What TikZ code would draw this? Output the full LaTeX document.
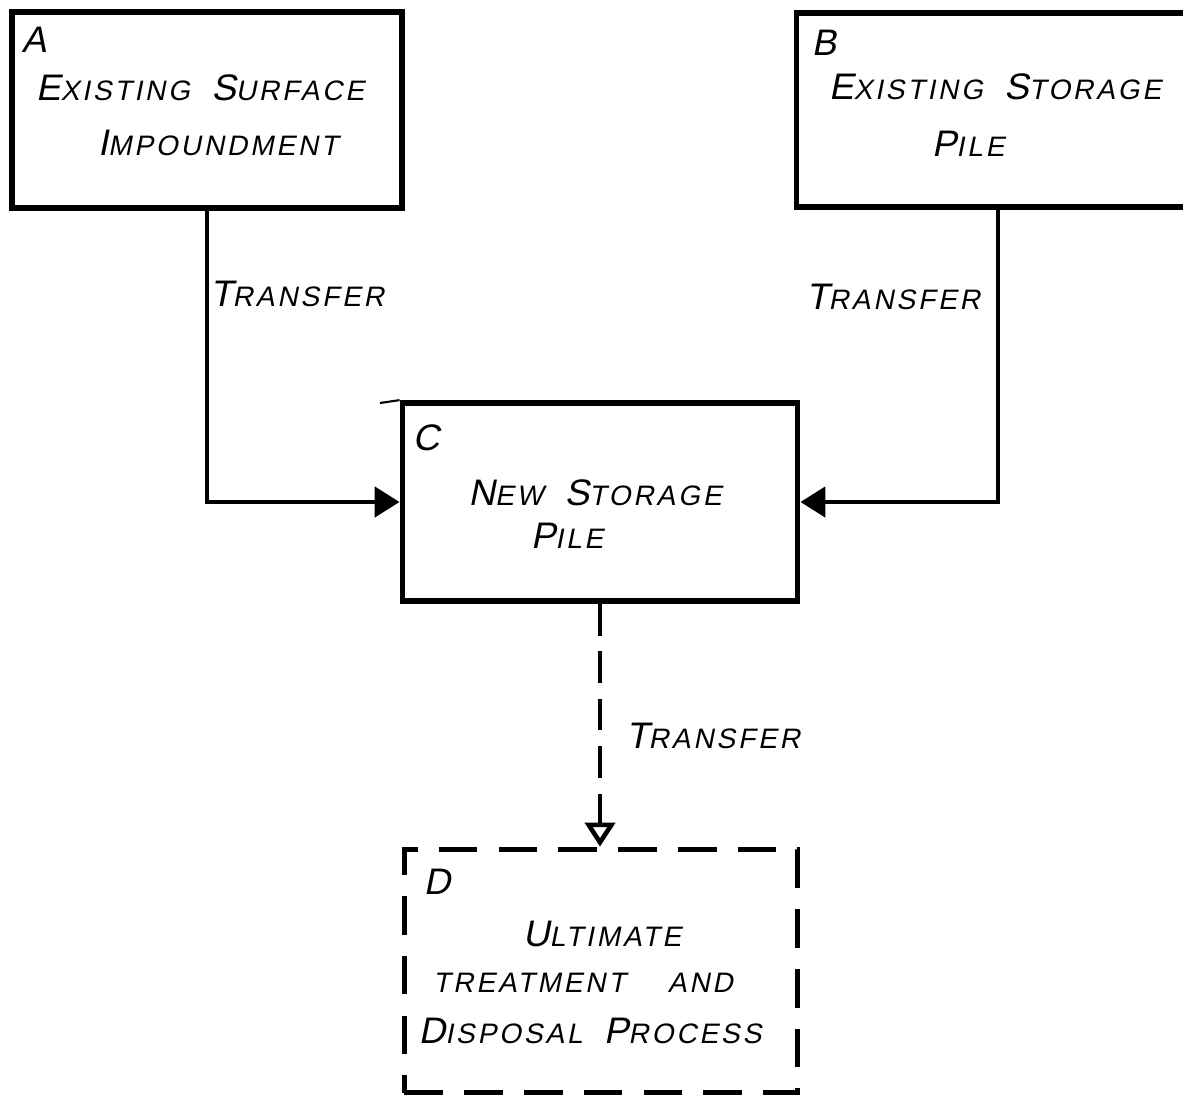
\documentclass[tikz,border=0pt]{standalone}
\usepackage{fontspec}
\newfontfamily\handfont[FakeSlant=0.2,LetterSpace=10]{Liberation Sans}
\usetikzlibrary{arrows.meta}
\newcommand\capfirst[1]{{\fontsize{10.5}{12}\selectfont #1}}
\begin{document}
\begin{tikzpicture}[x=0.01cm,y=-0.01cm,
    hand/.style={font=\handfont\fontsize{8}{10}\selectfont,inner sep=0pt},
    tag/.style={font=\handfont\fontsize{10.5}{12}\selectfont,inner sep=0pt},
    box/.style={draw,line width=1.6pt,inner sep=0pt},
    dashbox/.style={box,dash pattern=on 11pt off 6pt},
    flow/.style={line width=1.4pt,-{Triangle[length=0.25cm,width=0.3cm]}},
    flowdash/.style={line width=1.3pt,dash pattern=on 9pt off 4.5pt,
      -{Triangle[open,length=0.24cm,width=0.3cm]}}]
  \useasboundingbox (0,0) rectangle (1183,1095);
  % boxes
  \node[box,minimum width=3.90cm,minimum height=1.96cm] (A) at (207,110) {};
  \node[box,minimum width=4.03cm,minimum height=1.94cm] (B) at (998,110) {};
  \node[box,minimum width=3.95cm,minimum height=1.98cm] (C) at (600,502) {};
  \node[dashbox,minimum width=3.93cm,minimum height=2.43cm] (D) at (601,971) {};
  \coordinate (stub) at (380,403);
  \draw[line width=0.6pt] (stub) -- (C.north west);
  % box texts
  \node[tag] (tA) at (34,40) {A};
  \node[hand] (A1) at (200,88) {\capfirst{E}XISTING\ \ \capfirst{S}URFACE};
  \node[hand] (A2) at (218,143) {\capfirst{I}MPOUNDMENT};
  \node[tag] (tB) at (824,43) {B};
  \node[hand] (B1) at (995,87) {\capfirst{E}XISTING\ \ \capfirst{S}TORAGE};
  \node[hand] (B2) at (968,144) {\capfirst{P}ILE};
  \node[tag] (tC) at (426,438) {C};
  \node[hand] (C1) at (595,493) {\capfirst{N}EW\ \ \capfirst{S}TORAGE};
  \node[hand] (C2) at (567,536) {\capfirst{P}ILE};
  \node[tag] (tD) at (437,882) {D};
  \node[hand] (D1) at (602,934) {\capfirst{U}LTIMATE};
  \node[hand] (D2) at (583,983) {TREATMENT\hspace{12pt}AND};
  \node[hand] (D3) at (590,1031) {\capfirst{D}ISPOSAL\ \ \capfirst{P}ROCESS};
  % transfers
  \draw[flow] (A.south) |- (C.west);
  \draw[flow] (B.south) |- (C.east);
  \draw[flowdash] (C.south) -- (C.south |- D.north);
  \node[hand] (t1) at (297,294) {\capfirst{T}RANSFER};
  \node[hand] (t2) at (893,297) {\capfirst{T}RANSFER};
  \node[hand] (t3) at (713,736) {\capfirst{T}RANSFER};
\end{tikzpicture}
\end{document}
